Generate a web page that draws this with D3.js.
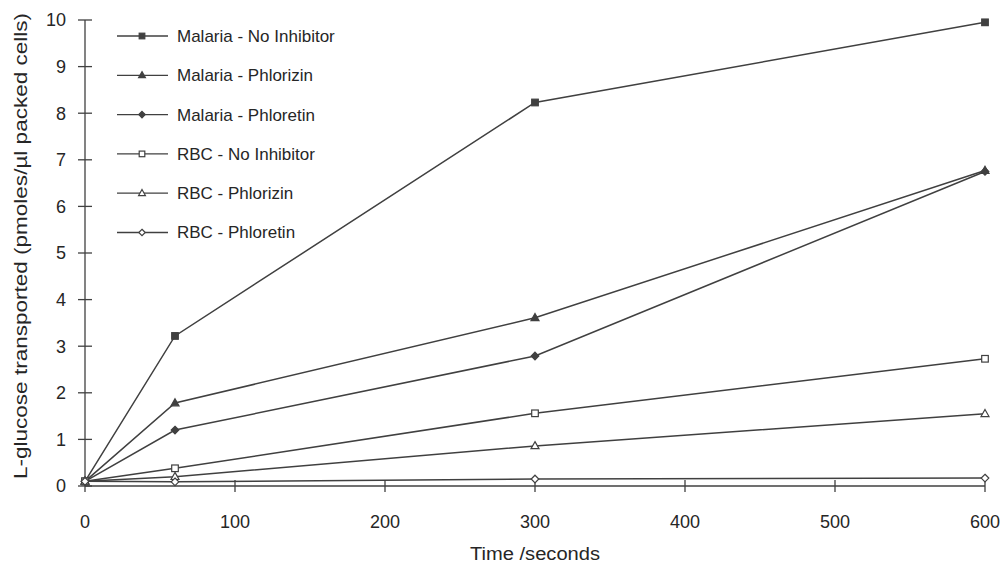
<!DOCTYPE html>
<html><head><meta charset="utf-8">
<script src="https://cdn.jsdelivr.net/npm/d3@7"></script>
<style>body{margin:0;background:#fff}svg{display:block}</style>
</head><body>
<svg id="c" width="1004" height="565"></svg>
<script>
const times = [0, 60, 300, 600];
const seriesNames = ["Malaria - No Inhibitor","Malaria - Phlorizin","Malaria - Phloretin","RBC - No Inhibitor","RBC - Phlorizin","RBC - Phloretin"];
const malariaNoInhibitor = [0.1, 3.22, 8.23, 9.95];
const malariaPhlorizin   = [0.1, 1.78, 3.61, 6.77];
const malariaPhloretin   = [0.1, 1.20, 2.79, 6.75];
const rbcNoInhibitor     = [0.1, 0.38, 1.56, 2.73];
const rbcPhlorizin       = [0.1, 0.20, 0.86, 1.55];
const rbcPhloretin       = [0.1, 0.09, 0.15, 0.17];
const xTicks = [0,100,200,300,400,500,600];
const yTicks = [0,1,2,3,4,5,6,7,8,9,10];
const markerTypes = ["square","triangle","diamond","square","triangle","diamond"];
const markerFilled = [true,true,true,false,false,false];
const allSeries = [malariaNoInhibitor, malariaPhlorizin, malariaPhloretin, rbcNoInhibitor, rbcPhlorizin, rbcPhloretin];

const svg = d3.select("#c");
const ink = "#404040", txt = "#262626";
const font = "Liberation Sans, Arial, Helvetica, sans-serif";
const x = d3.scaleLinear().domain([0,600]).range([85,985]);
const y = d3.scaleLinear().domain([0,10]).range([486,20]);

function marker(g, type, filled, cx, cy, s){
  s = s || 1;
  const fill = filled ? ink : "#fff";
  const sw = 1.2;
  if(type==="square"){
    g.append("rect").attr("x",cx-3.3*s).attr("y",cy-3.3*s).attr("width",6.6*s).attr("height",6.6*s)
      .attr("fill",fill).attr("stroke",ink).attr("stroke-width",sw);
  } else if(type==="triangle"){
    g.append("path").attr("d",`M${cx},${cy-4.3*s}L${cx+4*s},${cy+2.8*s}L${cx-4*s},${cy+2.8*s}Z`)
      .attr("fill",fill).attr("stroke",ink).attr("stroke-width",sw);
  } else {
    g.append("path").attr("d",`M${cx},${cy-3.8*s}L${cx+3.8*s},${cy}L${cx},${cy+3.8*s}L${cx-3.8*s},${cy}Z`)
      .attr("fill",fill).attr("stroke",ink).attr("stroke-width",sw);
  }
}

// axes
const ax = svg.append("g").attr("stroke",ink).attr("stroke-width",1.3);
ax.append("line").attr("x1",x(0)).attr("x2",x(0)).attr("y1",y(10)).attr("y2",y(0));
ax.append("line").attr("x1",x(0)).attr("x2",x(600)).attr("y1",y(0)).attr("y2",y(0));
yTicks.forEach(t=>{
  ax.append("line").attr("x1",x(0)-7).attr("x2",x(0)+7).attr("y1",y(t)).attr("y2",y(t));
});
xTicks.forEach(t=>{
  ax.append("line").attr("x1",x(t)).attr("x2",x(t)).attr("y1",y(0)-6).attr("y2",y(0)+6);
});
const tl = svg.append("g").attr("font-family",font).attr("font-size",18).attr("fill",txt);
yTicks.forEach(t=>{
  tl.append("text").attr("x",66).attr("y",y(t)).attr("dy","0.35em").attr("text-anchor","end").text(t);
});
xTicks.forEach(t=>{
  tl.append("text").attr("x",x(t)).attr("y",522).attr("dy","0.35em").attr("text-anchor","middle").text(t);
});
tl.append("text").attr("x",x(300)).attr("y",554).attr("dy","0.35em").attr("text-anchor","middle")
  .attr("textLength",130).attr("lengthAdjust","spacingAndGlyphs").text("Time /seconds");
tl.append("text").attr("transform",`translate(21,246) rotate(-90)`).attr("dy","0.35em")
  .attr("text-anchor","middle").attr("textLength",466).attr("lengthAdjust","spacingAndGlyphs")
  .text("L-glucose transported (pmoles/µl packed cells)");

// series
const line = d3.line().x((d,i)=>x(times[i])).y(d=>y(d));
allSeries.forEach((s,k)=>{
  svg.append("path").attr("d",line(s)).attr("fill","none").attr("stroke",ink).attr("stroke-width",1.5);
});
allSeries.forEach((s,k)=>{
  const g = svg.append("g");
  s.forEach((v,i)=>marker(g, markerTypes[k], markerFilled[k], x(times[i]), y(v)));
});

// legend
const lg = svg.append("g");
seriesNames.forEach((n,k)=>{
  const yy = 36 + k*39.3;
  lg.append("line").attr("x1",117).attr("x2",168).attr("y1",yy).attr("y2",yy).attr("stroke",ink).attr("stroke-width",1.3);
  marker(lg, markerTypes[k], markerFilled[k], 142, yy, 0.85);
  lg.append("text").attr("x",177).attr("y",yy).attr("dy","0.35em").attr("font-family",font)
    .attr("font-size",17).attr("fill",txt).text(n);
});
</script>
</body></html>
